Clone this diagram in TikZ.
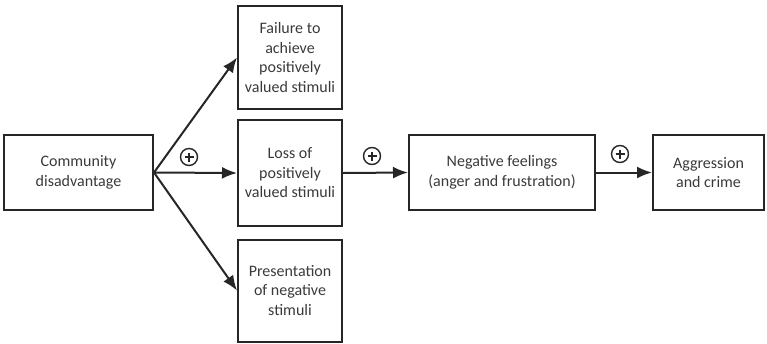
\documentclass[tikz,border=0pt]{standalone}
\usepackage{fontspec}
\setmainfont{Carlito}
\usetikzlibrary{arrows.meta}
\definecolor{boxline}{HTML}{262626}
\definecolor{boxtext}{HTML}{3A3A3A}
\tikzset{
  box/.style={draw=boxline, line width=2pt, align=center, text=boxtext,
    font=\fontsize{16}{19.5}\selectfont, inner sep=0pt},
  link/.style={draw=boxline, line width=2pt, -{Latex[length=15pt,width=12pt]}},
  plussign/.style={circle, draw=boxline, line width=1.4pt, minimum size=17pt, inner sep=0pt,
    path picture={\draw[boxline, line width=1.4pt]
      ([xshift=-4.5pt]path picture bounding box.center) -- ([xshift=4.5pt]path picture bounding box.center)
      ([yshift=-4.5pt]path picture bounding box.center) -- ([yshift=4.5pt]path picture bounding box.center);}}
}
\begin{document}
\begin{tikzpicture}[x=1pt,y=-1pt]
  \useasboundingbox (0,0) rectangle (767,343);
  \node[box, minimum width=149pt, minimum height=75pt] (comm) at (78.5,172.5) {Community\\disadvantage};
  \node[box, minimum width=104pt, minimum height=103pt] (fail) at (290,57.5) {Failure to\\achieve\\positively\\valued stimuli};
  \node[box, minimum width=104pt, minimum height=106pt] (loss) at (290,173) {Loss of\\positively\\valued stimuli};
  \node[box, minimum width=104pt, minimum height=102pt] (pres) at (290,290.5) {Presentation\\of negative\\stimuli};
  \node[box, minimum width=186pt, minimum height=75pt] (neg) at (502,172.5) {Negative feelings\\(anger and frustration)};
  \node[box, minimum width=111pt, minimum height=75pt] (aggr) at (708.5,172.5) {Aggression\\and crime};
  % connectors
  \draw[link] (comm.east) -- (fail.west);
  \draw[link] (comm.east) -- (loss.west);
  \draw[link] (comm.east) -- (pres.west);
  \draw[link] (loss.east) -- (neg.west);
  \draw[link] (neg.east) -- (aggr.west);
  % signs
  \node[plussign] (p1) at (189,157) {};
  \node[plussign] (p2) at (372,156) {};
  \node[plussign] (p3) at (620,154) {};
\end{tikzpicture}
\end{document}
